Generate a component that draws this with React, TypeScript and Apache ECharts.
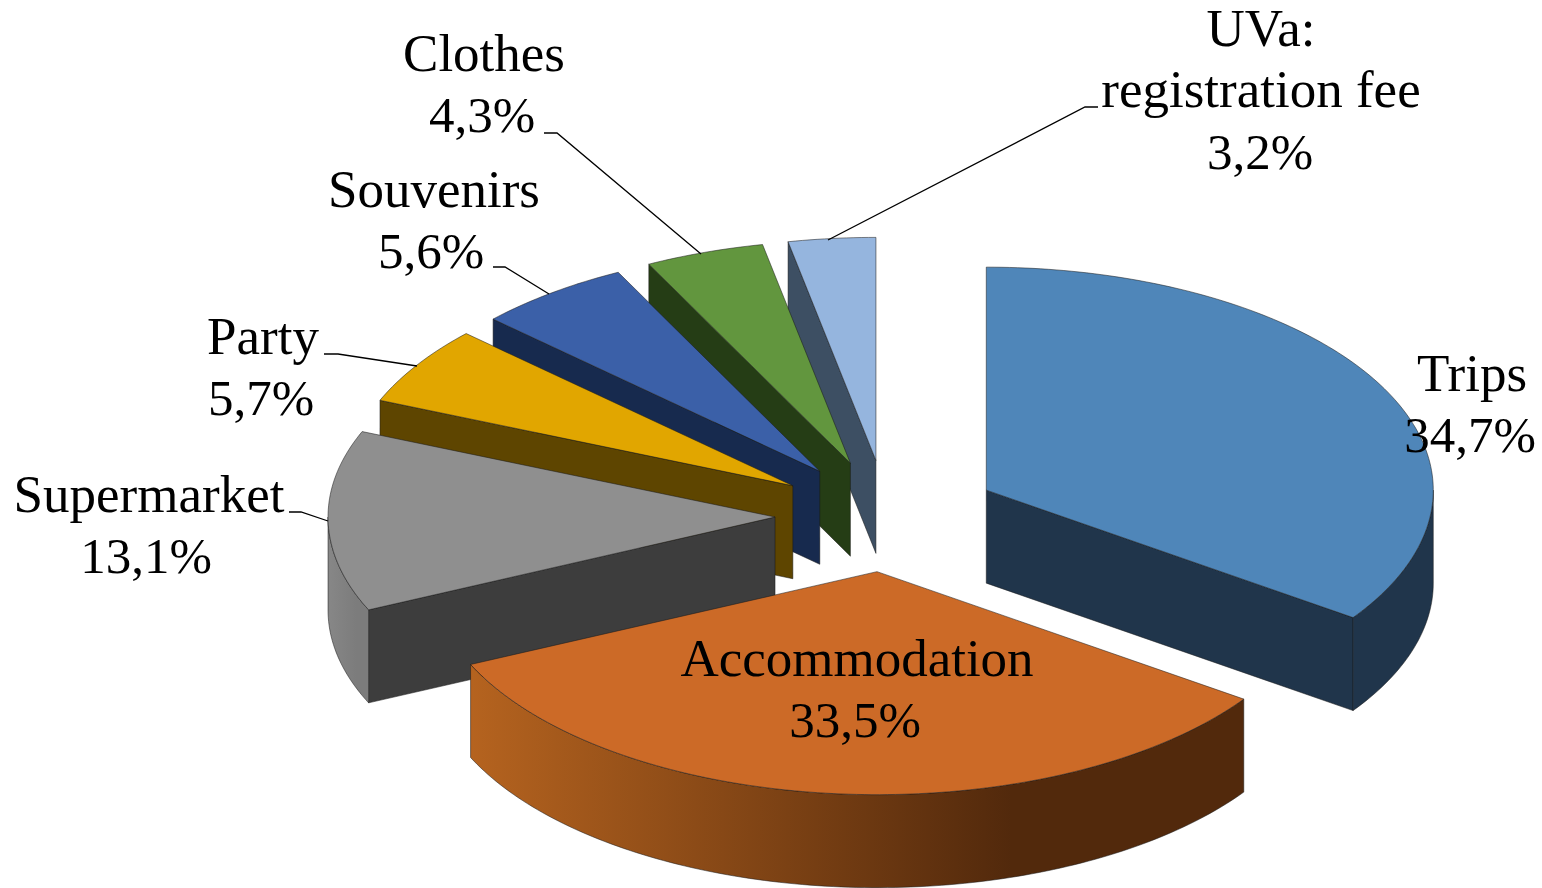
import React, { useEffect, useRef } from "react";
import * as echarts from "echarts";

// Data (clockwise from 12 o'clock)
const categories = ["Trips", "Accommodation", "Supermarket", "Party", "Souvenirs", "Clothes", "UVa:\nregistration fee"];
const shares = [34.7, 33.5, 13.1, 5.7, 5.6, 4.3, 3.2];

// Colours per slice
const topColors = ["#4F86B9", "#CC6A27", "#8F8F8F", "#E1A600", "#3B60A8", "#62963E", "#95B5DE"];
const cutColors = ["#20354B", "#4E2709", "#3D3D3D", "#5E4500", "#172A4E", "#253D15", "#3D4F63"];
const wallLeft = ["#20354B", "#B5631F", "#878787", "#5E4500", "#172A4E", "#253D15", "#3D4F63"];
const wallRight = ["#20354B", "#52290C", "#7C7C7C", "#5E4500", "#172A4E", "#253D15", "#3D4F63"];

// Pie geometry (pixels)
const CX = 887;
const CY = 516;
const RX = 447;
const RY = 223;
const DEPTH = 93;
const EXPLODE = 112;
const FULL_CIRCLE_SHARE = 100.05; // the rounded shares add up to 100.1

// Label layout: centre x and baseline y of each text line
const labelLines: number[][][] = [
  [[1472, 392], [1470, 453]],
  [[857, 677], [855, 738]],
  [[149, 513], [146, 574]],
  [[263, 355], [261, 416]],
  [[434, 208], [431, 269]],
  [[484, 72], [482, 133]],
  [[1261, 47], [1261, 108], [1260, 170]],
];

// Leader lines (label side to slice rim)
const leaders: number[][][] = [
  [[289, 512], [301, 512], [328, 521]],
  [[324, 354], [338, 354], [417, 366]],
  [[493, 267], [505, 267], [549, 294]],
  [[544, 133], [557, 133], [701, 254]],
  [[1098, 107], [1085, 107], [828, 240]],
];

const FONT = '"Liberation Serif", "Times New Roman", serif';
const NAME_SIZE = 53;
const VALUE_SIZE = 51;
const BASELINE_SHIFT = 46;
const OUTLINE = "rgba(25,25,25,0.65)";

const rad = (d: number) => (d * Math.PI) / 180;

const slices = (() => {
  let acc = 0;
  return shares.map((v) => {
    const a0 = (acc / FULL_CIRCLE_SHARE) * 360;
    acc += v;
    const a1 = Math.min(360, (acc / FULL_CIRCLE_SHARE) * 360);
    const m = (a0 + a1) / 2;
    return {
      a0,
      a1,
      ax: CX + EXPLODE * Math.sin(rad(m)),
      ay: CY - (EXPLODE * RY * Math.cos(rad(m))) / RX,
    };
  });
})();

function arc(ax: number, ay: number, from: number, to: number, dy = 0): number[][] {
  const n = Math.max(1, Math.ceil(Math.abs(to - from)));
  const pts: number[][] = [];
  for (let i = 0; i <= n; i++) {
    const a = rad(from + ((to - from) * i) / n);
    pts.push([ax + RX * Math.sin(a), ay - RY * Math.cos(a) + dy]);
  }
  return pts;
}

function renderItem(params: any) {
  const i = params.dataIndex as number;
  const idx = categories.length - 1 - i;
  const s = slices[idx];
  const children: any[] = [];
  const line = { stroke: OUTLINE, lineWidth: 0.8, lineJoin: "round" };
  const face = (a: number, color: string) => {
    const p = arc(s.ax, s.ay, a, a)[0];
    children.push({
      type: "polygon",
      shape: { points: [[s.ax, s.ay], p, [p[0], p[1] + DEPTH], [s.ax, s.ay + DEPTH]] },
      style: { fill: color, ...line },
    });
  };
  if (Math.sin(rad(s.a0)) < 0) face(s.a0, cutColors[idx]);
  if (Math.sin(rad(s.a1)) > 0) face(s.a1, cutColors[idx]);
  const w0 = Math.max(s.a0, 90);
  const w1 = Math.min(s.a1, 270);
  if (w1 > w0) {
    const top = arc(s.ax, s.ay, w0, w1);
    const bottom = arc(s.ax, s.ay, w1, w0, DEPTH);
    children.push({
      type: "polygon",
      shape: { points: [...top, ...bottom] },
      style: {
        fill: new echarts.graphic.LinearGradient(1, 0, 0, 0, [
          { offset: 0, color: wallRight[idx] },
          { offset: 0.3, color: wallRight[idx] },
          { offset: 1, color: wallLeft[idx] },
        ]),
        ...line,
      },
    });
  }
  children.push({
    type: "polygon",
    shape: { points: [[s.ax, s.ay], ...arc(s.ax, s.ay, s.a0, s.a1)] },
    style: { fill: topColors[idx], ...line },
  });
  return { type: "group", children };
}

const labelElements = categories.flatMap((name, i) => {
  const nameLines = name.split("\n");
  const lines = [...nameLines, `${shares[i].toFixed(1).replace(".", ",")}%`];
  return lines.map((text, j) => {
    const isValue = j === nameLines.length;
    return {
      type: "text",
      x: labelLines[i][j][0],
      y: labelLines[i][j][1] - BASELINE_SHIFT + (isValue ? 2 : 0),
      z: 20,
      silent: true,
      style: { text, fill: "#000", font: `${isValue ? VALUE_SIZE : NAME_SIZE}px ${FONT}`, textAlign: "center" },
    };
  });
});

const leaderElements = leaders.map((points) => ({
  type: "polyline",
  z: 19,
  silent: true,
  shape: { points },
  style: { stroke: "#000", lineWidth: 1.3, fill: "none" },
}));

export default function App() {
  const ref = useRef<HTMLDivElement>(null);
  useEffect(() => {
    document.body.style.margin = "0";
    document.body.style.overflow = "hidden";
    const chart = echarts.init(ref.current!, undefined, { renderer: "svg" });
    chart.setOption({
      animation: false,
      backgroundColor: "#fff",
      series: [
        {
          type: "custom",
          coordinateSystem: "none",
          silent: true,
          clip: false,
          z: 2,
          renderItem,
          data: shares.map((v, i) => [shares.length - 1 - i, shares[shares.length - 1 - i]]),
        },
      ],
      graphic: { elements: [...leaderElements, ...labelElements] },
    });
    return () => chart.dispose();
  }, []);
  return <div ref={ref} style={{ position: "fixed", left: 0, top: 0, width: 1542, height: 888 }} />;
}
